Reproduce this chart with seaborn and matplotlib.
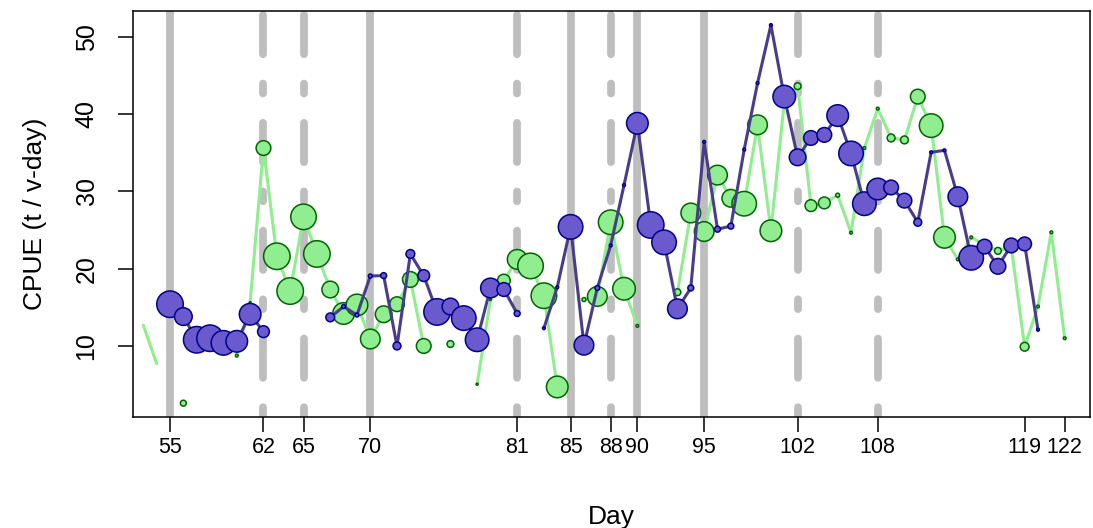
import numpy as np
import pandas as pd
import matplotlib
matplotlib.use("Agg")
import matplotlib.pyplot as plt
import seaborn as sns

nan = np.nan

# Fishing days of the season
days = list(range(53, 123))

# Fleet A: daily CPUE (t per vessel-day) and fishing effort (vessel-days)
cpue_a = [12.7, 7.7, nan, 2.6, nan, nan, nan, 8.75, 15.6, 35.6,
          21.6, 17.1, 26.7, 21.9, 17.3, 14.2, 15.3, 10.9, 14.1, 15.4,
          18.6, 10.0, nan, 10.25, nan, 5.05, 16.0, 18.45, 21.2, 20.35,
          16.5, 4.7, nan, 16.0, 16.4, 26.0, 17.4, 12.6, nan, nan,
          16.95, 27.2, 24.8, 32.1, 29.1, 28.4, 38.6, 24.9, 41.5, 43.6,
          28.15, 28.5, 29.5, 24.65, 35.6, 40.7, 36.9, 36.65, 42.25, 38.5,
          24.05, 21.2, 24.05, 23.1, 22.3, 22.8, 9.9, 15.1, 24.7, 11.0]
effort_a = [0, 0, nan, 9, nan, nan, nan, 2, 1, 56,
            182, 182, 169, 182, 72, 121, 121, 100, 72, 56,
            64, 56, nan, 12, nan, 1, 1, 42, 100, 169,
            169, 121, nan, 4, 100, 156, 132, 2, nan, nan,
            12, 100, 100, 100, 81, 156, 100, 121, 1, 12,
            36, 36, 4, 2, 2, 2, 16, 16, 56, 144,
            121, 2, 2, 1, 12, 1, 20, 2, 2, 2]

# Fleet B: daily CPUE (t per vessel-day) and fishing effort (vessel-days)
cpue_b = [nan, nan, 15.4, 13.8, 10.8, 11.0, 10.4, 10.6, 14.1, 11.85,
          nan, nan, nan, nan, 13.7, 15.1, 14.0, 19.05, 19.1, 10.0,
          21.9, 19.1, 14.4, 15.1, 13.6, 10.8, 17.5, 17.3, 14.2, nan,
          12.3, 17.6, 25.4, 10.1, 17.5, 23.0, 30.8, 38.8, 25.65, 23.4,
          14.8, 17.5, 36.4, 25.1, 25.5, 35.4, 44.0, 51.5, 42.25, 34.4,
          36.9, 37.3, 39.8, 34.9, 28.4, 30.3, 30.5, 28.8, 26.0, 35.05,
          35.3, 29.3, 21.4, 22.85, 20.3, 23.0, 23.2, 12.1, nan, nan]
effort_b = [nan, nan, 182, 81, 182, 182, 156, 121, 121, 36,
            nan, nan, nan, nan, 20, 4, 4, 4, 9, 16,
            20, 36, 182, 72, 156, 144, 100, 49, 9, nan,
            2, 2, 156, 100, 6, 2, 2, 121, 182, 156,
            100, 9, 2, 9, 9, 2, 2, 2, 132, 72,
            56, 56, 121, 156, 144, 121, 56, 56, 16, 2,
            2, 100, 156, 56, 64, 56, 49, 2, nan, nan]

# Management events
full_closure_days = [55, 70, 85, 90, 95]
partial_closure_days = [62, 65, 81, 88, 102, 108]
tick_days = [55, 62, 65, 70, 81, 85, 88, 90, 95, 102, 108, 119, 122]

sns.set_theme(style="white")
plt.rcParams["font.family"] = ["Liberation Sans", "DejaVu Sans"]
plt.rcParams["lines.scale_dashes"] = False

fig = plt.figure(figsize=(10.93, 5.28), dpi=100)
ax = fig.add_axes([0.1217, 0.2108, 0.8756, 0.7689])


def fleet_frame(cpue, effort):
    df = pd.DataFrame({"day": days, "cpue": cpue, "effort": effort})
    # a day without catch reports breaks the line into separate runs
    df["run"] = df["cpue"].isna().cumsum()
    return df.dropna(subset=["cpue"])


fleet_a = fleet_frame(cpue_a, effort_a)
fleet_b = fleet_frame(cpue_b, effort_b)

# closure markers behind the data
u = 7.06
for d in full_closure_days:
    ax.axvline(d, color="#BEBEBE", lw=5.6, solid_capstyle="butt", zorder=1)
for d in partial_closure_days:
    ax.axvline(d, color="#BEBEBE", lw=5.6, linestyle=(0, (u, 3 * u, 4 * u, 3 * u)),
               dash_capstyle="round", zorder=1)

size_norm = (0, 200)
size_range = (0, 2.0 * 200)

for df, line_col, fill_col, edge_col, z in [
    (fleet_a, "#90EE90", "#90EE90", "#006400", 2),
    (fleet_b, "#483D8B", "#6A5ACD", "#00008B", 4),
]:
    sns.lineplot(data=df, x="day", y="cpue", units="run", estimator=None,
                 color=line_col, lw=2.2, ax=ax, zorder=z, legend=False)
    pts = df[df["effort"] > 0]
    sns.scatterplot(data=pts, x="day", y="cpue", size="effort",
                    sizes=size_range, size_norm=size_norm,
                    color=fill_col, edgecolor=edge_col, linewidth=1.1,
                    ax=ax, zorder=z + 1, legend=False)

ax.set_xlim(52.23, 123.9)
ax.set_ylim(0.85, 53.36)
ax.set_xticks(tick_days)
ax.set_xticklabels([str(d) for d in tick_days])
ax.set_yticks([10, 20, 30, 40, 50])

for s in ax.spines.values():
    s.set_color("black")
    s.set_linewidth(1.1)

ax.tick_params(axis="both", which="major", direction="out", length=10.8,
               width=1.1, color="black", labelcolor="black",
               bottom=True, left=True)
ax.tick_params(axis="x", pad=4, labelsize=15.5)
ax.tick_params(axis="y", pad=14, labelsize=18, labelrotation=90)
for lbl in ax.get_yticklabels():
    lbl.set_verticalalignment("center")

ax.set_xlabel("Day", fontsize=19, color="black", labelpad=34)
ax.set_ylabel("CPUE (t / v-day)", fontsize=19, color="black", labelpad=20)

fig.savefig("out.png", dpi=100)
